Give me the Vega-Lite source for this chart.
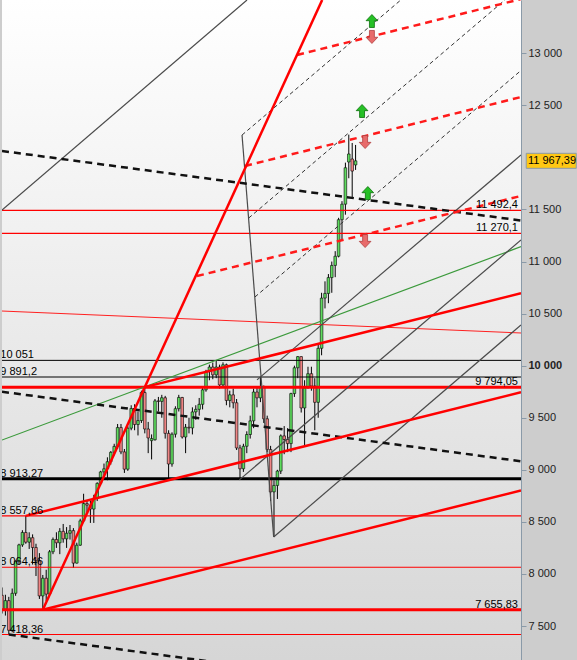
{
"$schema": "https://vega.github.io/schema/vega-lite/v6.json",
"width": 519,
"height": 660,
"padding": 0,
"background": "#cdcdcd",
"config": {"view": {"stroke": null}, "font": "Liberation Sans", "scale": {"continuousPadding": 0}},
"datasets": {
"candles": [
{"w":0,"o":7795,"h":7870,"l":7620,"c":7658},
{"w":1,"o":7660,"h":7800,"l":7600,"c":7744},
{"w":2,"o":7744,"h":7780,"l":7418.36,"c":7459},
{"w":3,"o":7460,"h":7860,"l":7440,"c":7814},
{"w":4,"o":7814,"h":8130,"l":7790,"c":8122},
{"w":5,"o":8122,"h":8290,"l":8090,"c":8279},
{"w":6,"o":8279,"h":8420,"l":8260,"c":8398},
{"w":7,"o":8398,"h":8557.86,"l":8290,"c":8305},
{"w":8,"o":8305,"h":8400,"l":8240,"c":8348},
{"w":9,"o":8348,"h":8380,"l":8090,"c":8254},
{"w":10,"o":8254,"h":8290,"l":7980,"c":8127},
{"w":11,"o":8127,"h":8200,"l":7760,"c":7789},
{"w":12,"o":7789,"h":7990,"l":7655.83,"c":7959},
{"w":13,"o":7959,"h":8040,"l":7740,"c":7806},
{"w":14,"o":7806,"h":8230,"l":7800,"c":8213},
{"w":15,"o":8213,"h":8350,"l":8190,"c":8331},
{"w":16,"o":8331,"h":8400,"l":8250,"c":8299},
{"w":17,"o":8299,"h":8440,"l":8190,"c":8409},
{"w":18,"o":8409,"h":8480,"l":8300,"c":8337},
{"w":19,"o":8337,"h":8450,"l":8250,"c":8391},
{"w":20,"o":8391,"h":8470,"l":8330,"c":8416},
{"w":21,"o":8416,"h":8440,"l":8060,"c":8104},
{"w":22,"o":8104,"h":8300,"l":8100,"c":8276},
{"w":23,"o":8276,"h":8530,"l":8270,"c":8510},
{"w":24,"o":8510,"h":8770,"l":8500,"c":8676},
{"w":25,"o":8676,"h":8700,"l":8590,"c":8661},
{"w":26,"o":8661,"h":8700,"l":8490,"c":8623},
{"w":27,"o":8623,"h":8760,"l":8490,"c":8725},
{"w":28,"o":8725,"h":8880,"l":8700,"c":8870},
{"w":29,"o":8870,"h":8990,"l":8850,"c":8980},
{"w":30,"o":8980,"h":9060,"l":8950,"c":9010},
{"w":31,"o":9010,"h":9120,"l":8900,"c":9078},
{"w":32,"o":9078,"h":9180,"l":9050,"c":9168},
{"w":33,"o":9168,"h":9250,"l":9140,"c":9225},
{"w":34,"o":9225,"h":9440,"l":9200,"c":9406},
{"w":35,"o":9406,"h":9440,"l":9150,"c":9172},
{"w":36,"o":9172,"h":9200,"l":8970,"c":9006},
{"w":37,"o":9006,"h":9420,"l":8990,"c":9400},
{"w":38,"o":9400,"h":9620,"l":9380,"c":9589},
{"w":39,"o":9589,"h":9630,"l":9380,"c":9435},
{"w":40,"o":9435,"h":9560,"l":9330,"c":9473},
{"w":41,"o":9473,"h":9760,"l":9450,"c":9742},
{"w":42,"o":9742,"h":9794.05,"l":9350,"c":9392},
{"w":43,"o":9392,"h":9460,"l":9160,"c":9306},
{"w":44,"o":9280,"h":9340,"l":9100,"c":9300},
{"w":45,"o":9289,"h":9680,"l":9280,"c":9662},
{"w":46,"o":9662,"h":9700,"l":9560,"c":9657},
{"w":47,"o":9657,"h":9720,"l":9500,"c":9692},
{"w":48,"o":9692,"h":9710,"l":9300,"c":9350},
{"w":49,"o":9350,"h":9380,"l":8913.27,"c":9056},
{"w":50,"o":9056,"h":9360,"l":9030,"c":9342},
{"w":51,"o":9342,"h":9610,"l":9310,"c":9587},
{"w":52,"o":9587,"h":9720,"l":9560,"c":9695},
{"w":53,"o":9695,"h":9700,"l":9300,"c":9315},
{"w":54,"o":9315,"h":9440,"l":9160,"c":9409},
{"w":55,"o":9409,"h":9500,"l":9350,"c":9402},
{"w":56,"o":9402,"h":9600,"l":9340,"c":9556},
{"w":57,"o":9556,"h":9620,"l":9480,"c":9581},
{"w":58,"o":9581,"h":9690,"l":9520,"c":9629},
{"w":59,"o":9629,"h":9800,"l":9580,"c":9768},
{"w":60,"o":9768,"h":9960,"l":9750,"c":9943},
{"w":61,"o":9943,"h":10010,"l":9860,"c":9987},
{"w":62,"o":9987,"h":10030,"l":9870,"c":9912},
{"w":63,"o":9912,"h":10051,"l":9880,"c":9987},
{"w":64,"o":9987,"h":10010,"l":9780,"c":9815},
{"w":65,"o":9815,"h":10032,"l":9800,"c":10009},
{"w":66,"o":10009,"h":10020,"l":9620,"c":9666},
{"w":67,"o":9666,"h":9760,"l":9600,"c":9720},
{"w":68,"o":9720,"h":9780,"l":9590,"c":9644},
{"w":69,"o":9644,"h":9680,"l":9190,"c":9210},
{"w":70,"o":9210,"h":9240,"l":8903,"c":9010},
{"w":71,"o":9010,"h":9250,"l":8980,"c":9226},
{"w":72,"o":9226,"h":9370,"l":9160,"c":9339},
{"w":73,"o":9339,"h":9520,"l":9300,"c":9470},
{"w":74,"o":9470,"h":9780,"l":9400,"c":9747},
{"w":75,"o":9747,"h":9800,"l":9600,"c":9691},
{"w":76,"o":9691,"h":9891.2,"l":9650,"c":9799},
{"w":77,"o":9799,"h":9810,"l":9450,"c":9490},
{"w":78,"o":9490,"h":9520,"l":9170,"c":9195},
{"w":79,"o":9195,"h":9230,"l":8700,"c":8788},
{"w":80,"o":8788,"h":8900,"l":8355,"c":8850},
{"w":81,"o":8850,"h":9000,"l":8720,"c":8988},
{"w":82,"o":8988,"h":9340,"l":8960,"c":9326},
{"w":83,"o":9326,"h":9420,"l":9150,"c":9291},
{"w":84,"o":9291,"h":9400,"l":9170,"c":9252},
{"w":85,"o":9252,"h":9740,"l":9170,"c":9732},
{"w":86,"o":9732,"h":10000,"l":9700,"c":9980},
{"w":87,"o":9980,"h":10093,"l":9880,"c":10087},
{"w":88,"o":10087,"h":10090,"l":9550,"c":9594},
{"w":89,"o":9594,"h":9860,"l":9219,"c":9787},
{"w":90,"o":9787,"h":9990,"l":9780,"c":9923},
{"w":91,"o":9923,"h":9990,"l":9760,"c":9805},
{"w":92,"o":9805,"h":9880,"l":9380,"c":9648},
{"w":93,"o":9648,"h":10200,"l":9500,"c":10167},
{"w":94,"o":10167,"h":10700,"l":10100,"c":10649},
{"w":95,"o":10649,"h":10810,"l":10550,"c":10694},
{"w":96,"o":10694,"h":10880,"l":10600,"c":10846},
{"w":97,"o":10846,"h":11000,"l":10700,"c":10963},
{"w":98,"o":10963,"h":11100,"l":10850,"c":11051},
{"w":99,"o":11051,"h":11420,"l":11040,"c":11402},
{"w":100,"o":11402,"h":11580,"l":11200,"c":11551},
{"w":101,"o":11551,"h":11950,"l":11450,"c":11901},
{"w":102,"o":11956,"h":12219,"l":11800,"c":12033},
{"w":103,"o":11985,"h":12139,"l":11620,"c":11869},
{"w":104,"o":11928,"h":12120,"l":11880,"c":11967.39}
],
"levels": [
{"value":11492.4,"label":"11 492,4","side":"right","kind":"red","weight":"minor"},
{"value":11270.1,"label":"11 270,1","side":"right","kind":"red","weight":"minor"},
{"value":10051,"label":"10 051","side":"left","kind":"black","weight":"minor"},
{"value":9891.2,"label":"9 891,2","side":"left","kind":"black","weight":"minor"},
{"value":9794.05,"label":"9 794,05","side":"right","kind":"red","weight":"major"},
{"value":8913.27,"label":"8 913,27","side":"left","kind":"black","weight":"major"},
{"value":8557.86,"label":"8 557,86","side":"left","kind":"red","weight":"minor"},
{"value":8064.46,"label":"8 064,46","side":"left","kind":"red","weight":"minor"},
{"value":7655.83,"label":"7 655,83","side":"right","kind":"red","weight":"major"},
{"value":7418.36,"label":"7 418,36","side":"left","kind":"red","weight":"minor"}
],
"lines": [
{"id":"A","set":"channel","w":12,"v":7655.83},{"id":"A","set":"channel","w":94.17,"v":13511.9},
{"id":"B","set":"channel","w":12,"v":7655.83},{"id":"B","set":"channel","w":152.65,"v":8802},
{"id":"C","set":"channel","w":7,"v":8557.86},{"id":"C","set":"channel","w":152.65,"v":9745},
{"id":"D","set":"channel","w":42,"v":9794.05},{"id":"D","set":"channel","w":152.65,"v":10696},
{"id":"R1","set":"thinred","w":0,"v":10525},{"id":"R1","set":"thinred","w":152.65,"v":10314},
{"id":"E","set":"green","w":0,"v":9286},{"id":"E","set":"green","w":152.65,"v":11143},
{"id":"F","set":"trend","w":0,"v":12062},{"id":"F","set":"trend","w":152.65,"v":11394},
{"id":"G","set":"trend","w":0,"v":9750},{"id":"G","set":"trend","w":152.65,"v":9082},
{"id":"H","set":"trend","w":2,"v":7418.36},{"id":"H","set":"trend","w":62,"v":7155.8},
{"id":"I","set":"target","w":57.35,"v":10861},{"id":"I","set":"target","w":152.65,"v":11630},
{"id":"J","set":"target","w":71.5,"v":11918},{"id":"J","set":"target","w":152.65,"v":12580},
{"id":"K","set":"target","w":86.8,"v":12984},{"id":"K","set":"target","w":152.65,"v":13521},
{"id":"T","set":"fork","w":0,"v":11495},{"id":"T","set":"fork","w":72.06,"v":13511.9},
{"id":"S1","set":"fork","w":75,"v":9864},{"id":"S1","set":"fork","w":152.65,"v":12023},
{"id":"S2","set":"fork","w":69.8,"v":8903},{"id":"S2","set":"fork","w":152.65,"v":11207},
{"id":"S3","set":"fork","w":79.9,"v":8355},{"id":"S3","set":"fork","w":152.65,"v":10391},
{"id":"HD","set":"fork","w":70.6,"v":12215},{"id":"HD","set":"fork","w":79.9,"v":8355},
{"id":"D1","set":"guide","w":70.6,"v":12215},{"id":"D1","set":"guide","w":117.3,"v":13511.9},
{"id":"D2","set":"guide","w":72.56,"v":11418},{"id":"D2","set":"guide","w":147.9,"v":13511.9},
{"id":"D3","set":"guide","w":74.4,"v":10660},{"id":"D3","set":"guide","w":152.65,"v":12835}
],
"signals": [
{"w":108.8,"v":13310,"dir":"up"},
{"w":108.8,"v":13157,"dir":"down"},
{"w":105.9,"v":12446,"dir":"up"},
{"w":106.8,"v":12148,"dir":"down"},
{"w":107.6,"v":11658,"dir":"up"},
{"w":106.8,"v":11197,"dir":"down"}
],
"last": [{"value":11967.39,"label":"11 967,39"}]
},
"layer": [
{
"data": {"values": [{}]},
"mark": {"type": "rect", "fill": {"gradient": "linear", "x1": 0, "y1": 0, "x2": 0, "y2": 1, "stops": [{"offset": 0, "color": "#ffffff"}, {"offset": 1, "color": "#d6d6d6"}]}},
"encoding": {
"x": {"datum": 0, "type": "quantitative", "scale": {"domain": [0, 152.65], "nice": false, "zero": false, "padding": 0}, "axis": null},
"x2": {"datum": 152.65},
"y": {"datum": 13511.9, "type": "quantitative", "title": null, "scale": {"domain": [7173.5, 13511.9], "nice": false, "zero": false, "padding": 0},
"axis": {"orient": "right", "title": null, "grid": false, "values": [7500, 8000, 8500, 9000, 9500, 10000, 10500, 11000, 11500, 12500, 13000],
"labelExpr": "replace(format(datum.value, ','), ',', ' ')",
"labelFont": "Liberation Sans", "labelFontSize": 11, "labelColor": "#222",
"labelFontWeight": {"condition": {"test": "datum.value == 10000", "value": "bold"}, "value": "normal"},
"tickSize": 5, "tickColor": "#8a9aa8", "domainColor": "#8a9aa8", "labelPadding": 2, "minExtent": 58, "maxExtent": 58}},
"y2": {"datum": 7173.5}
}
},
{
"data": {"name": "candles"},
"mark": {"type": "rule", "color": "#000", "strokeWidth": 1, "clip": true},
"encoding": {
"x": {"field": "w", "type": "quantitative", "axis": null},
"y": {"field": "l", "type": "quantitative", "title": null},
"y2": {"field": "h"}
}
},
{
"data": {"name": "candles"},
"mark": {"type": "bar", "size": 2.6, "stroke": "#000", "strokeWidth": 0.6, "clip": true},
"encoding": {
"x": {"field": "w", "type": "quantitative", "axis": null},
"y": {"field": "o", "type": "quantitative", "title": null},
"y2": {"field": "c"},
"fill": {"condition": {"test": "datum.c >= datum.o", "value": "#5fdc5f"}, "value": "#ef8585"}
}
},
{
"data": {"name": "levels"},
"transform": [{"filter": "datum.kind == 'red' && datum.weight == 'minor'"}],
"mark": {"type": "rule", "color": "#ff0000", "strokeWidth": 1.2},
"encoding": {"y": {"field": "value", "type": "quantitative", "title": null}}
},
{
"data": {"name": "levels"},
"transform": [{"filter": "datum.kind == 'red' && datum.weight == 'major'"}],
"mark": {"type": "rule", "color": "#ff0000", "strokeWidth": 3},
"encoding": {"y": {"field": "value", "type": "quantitative", "title": null}}
},
{
"data": {"name": "levels"},
"transform": [{"filter": "datum.kind == 'black' && datum.weight == 'minor'"}],
"mark": {"type": "rule", "color": "#000", "strokeWidth": 1},
"encoding": {"y": {"field": "value", "type": "quantitative", "title": null}}
},
{
"data": {"name": "levels"},
"transform": [{"filter": "datum.kind == 'black' && datum.weight == 'major'"}],
"mark": {"type": "rule", "color": "#000", "strokeWidth": 3},
"encoding": {"y": {"field": "value", "type": "quantitative", "title": null}}
},
{
"data": {"name": "lines"},
"transform": [{"filter": "datum.set == 'thinred'"}],
"mark": {"type": "line", "color": "#ff2020", "strokeWidth": 1, "clip": true},
"encoding": {"x": {"field": "w", "type": "quantitative", "axis": null}, "y": {"field": "v", "type": "quantitative", "title": null}, "detail": {"field": "id"}}
},
{
"data": {"name": "lines"},
"transform": [{"filter": "datum.set == 'green'"}],
"mark": {"type": "line", "color": "#3c9a3c", "strokeWidth": 1.2, "clip": true},
"encoding": {"x": {"field": "w", "type": "quantitative", "axis": null}, "y": {"field": "v", "type": "quantitative", "title": null}, "detail": {"field": "id"}}
},
{
"data": {"name": "lines"},
"transform": [{"filter": "datum.set == 'fork'"}],
"mark": {"type": "line", "color": "#4a4a4a", "strokeWidth": 1.2, "clip": true},
"encoding": {"x": {"field": "w", "type": "quantitative", "axis": null}, "y": {"field": "v", "type": "quantitative", "title": null}, "detail": {"field": "id"}}
},
{
"data": {"name": "lines"},
"transform": [{"filter": "datum.set == 'guide'"}],
"mark": {"type": "line", "color": "#333", "strokeWidth": 1, "strokeDash": [4, 3], "clip": true},
"encoding": {"x": {"field": "w", "type": "quantitative", "axis": null}, "y": {"field": "v", "type": "quantitative", "title": null}, "detail": {"field": "id"}}
},
{
"data": {"name": "lines"},
"transform": [{"filter": "datum.set == 'trend'"}],
"mark": {"type": "line", "color": "#111", "strokeWidth": 2.5, "strokeDash": [7, 5], "clip": true},
"encoding": {"x": {"field": "w", "type": "quantitative", "axis": null}, "y": {"field": "v", "type": "quantitative", "title": null}, "detail": {"field": "id"}}
},
{
"data": {"name": "lines"},
"transform": [{"filter": "datum.set == 'target'"}],
"mark": {"type": "line", "color": "#ff1a1a", "strokeWidth": 2.5, "strokeDash": [7, 5], "clip": true},
"encoding": {"x": {"field": "w", "type": "quantitative", "axis": null}, "y": {"field": "v", "type": "quantitative", "title": null}, "detail": {"field": "id"}}
},
{
"data": {"name": "lines"},
"transform": [{"filter": "datum.set == 'channel'"}],
"mark": {"type": "line", "color": "#ff0000", "strokeWidth": 2.5, "clip": true},
"encoding": {"x": {"field": "w", "type": "quantitative", "axis": null}, "y": {"field": "v", "type": "quantitative", "title": null}, "detail": {"field": "id"}}
},
{
"data": {"name": "signals"},
"transform": [{"filter": "datum.dir == 'up'"}],
"mark": {"type": "point", "filled": true, "size": 169, "fill": "#26c026", "stroke": "#0d700d", "strokeWidth": 0.8, "opacity": 1,
"shape": "M 0 -1 L 0.9 -0.05 L 0.38 -0.05 L 0.38 1 L -0.38 1 L -0.38 -0.05 L -0.9 -0.05 Z"},
"encoding": {"x": {"field": "w", "type": "quantitative", "axis": null}, "y": {"field": "v", "type": "quantitative", "title": null}}
},
{
"data": {"name": "signals"},
"transform": [{"filter": "datum.dir == 'down'"}],
"mark": {"type": "point", "filled": true, "size": 169, "fill": "#e86b6b", "stroke": "#b04040", "strokeWidth": 0.8, "opacity": 1,
"shape": "M 0 1 L 0.9 0.05 L 0.38 0.05 L 0.38 -1 L -0.38 -1 L -0.38 0.05 L -0.9 0.05 Z"},
"encoding": {"x": {"field": "w", "type": "quantitative", "axis": null}, "y": {"field": "v", "type": "quantitative", "title": null}}
},
{
"data": {"name": "levels"},
"transform": [{"filter": "datum.side == 'left'"}],
"mark": {"type": "text", "align": "left", "baseline": "alphabetic", "dy": -2, "fontSize": 11, "color": "#000", "clip": true},
"encoding": {"x": {"datum": -0.5, "type": "quantitative"}, "y": {"field": "value", "type": "quantitative", "title": null}, "text": {"field": "label"}}
},
{
"data": {"name": "levels"},
"transform": [{"filter": "datum.side == 'right'"}],
"mark": {"type": "text", "align": "right", "baseline": "alphabetic", "dy": -2, "fontSize": 11, "color": "#000"},
"encoding": {"x": {"datum": 151.76, "type": "quantitative"}, "y": {"field": "value", "type": "quantitative", "title": null}, "text": {"field": "label"}}
},
{
"data": {"name": "last"},
"mark": {"type": "point", "filled": true, "size": 2500, "fill": "#ffc814", "stroke": "#8a9aaa", "strokeWidth": 1, "opacity": 1,
"shape": "M -1 -0.3 L 1 -0.3 L 1 0.3 L -1 0.3 Z"},
"encoding": {"x": {"datum": 161.54, "type": "quantitative"}, "y": {"field": "value", "type": "quantitative", "title": null}}
},
{
"data": {"name": "last"},
"mark": {"type": "text", "align": "left", "baseline": "middle", "fontSize": 11, "color": "#000"},
"encoding": {"x": {"datum": 154.7, "type": "quantitative"}, "y": {"field": "value", "type": "quantitative", "title": null}, "text": {"field": "label"}}
}
]
}
